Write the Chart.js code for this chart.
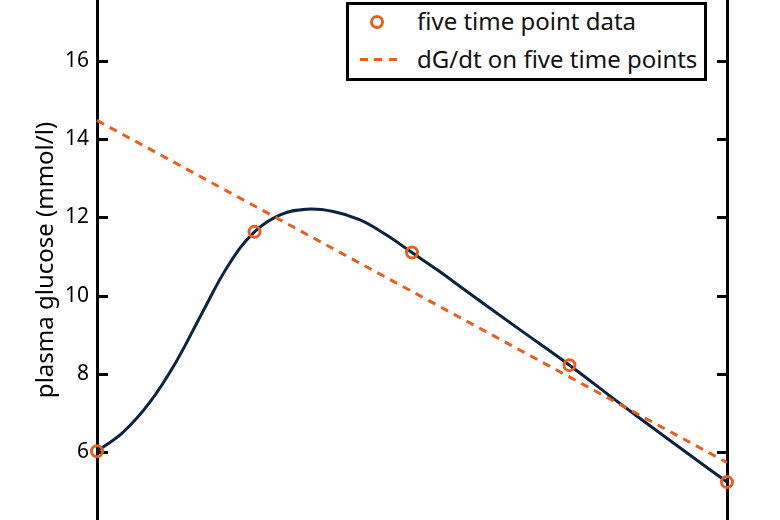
<!DOCTYPE html>
<html><head><meta charset="utf-8">
<script src="https://cdn.jsdelivr.net/npm/chart.js@4"></script>
<style>
html,body{margin:0;padding:0;background:#fff;overflow:hidden}
#wrap{position:relative;width:780px;height:520px}
#legend{position:absolute;left:346px;top:2px;width:355px;height:73px;border:3px solid #000;background:#fff;font-family:'Noto Sans',sans-serif;font-size:24px;color:#111}
.row{position:absolute;left:0;height:30px;width:100%}
.row span{position:absolute;left:68px;top:50%;transform:translateY(-54%);white-space:nowrap}
.mk{position:absolute;left:21px;top:8px;width:8px;height:8px;border:3px solid #e5601f;border-radius:50%}
.dash{position:absolute;left:11px;top:13px;width:37px;height:3px;background:repeating-linear-gradient(to right,#e5601f 0 8px,transparent 8px 14.5px)}
</style>
</head><body>
<div id="wrap">
<canvas id="c" width="780" height="520"></canvas>
<div id="legend">
  <div class="row" style="top:2px"><div class="mk"></div><span>five time point data</span></div>
  <div class="row" style="top:40px"><div class="dash"></div><span>dG/dt on five time points</span></div>
</div>
</div>
<script>
// data
const timePoints  = [0, 30, 60, 90, 120];               // min
const glucose     = [6.02, 11.63, 11.10, 8.22, 5.23];    // mmol/l
const modelTime   = [0, 5, 10, 15, 20, 25, 30, 35, 40, 45, 50, 55, 60, 65, 70, 80, 90, 100, 110, 120];
const modelGlucose= [6.02, 6.51, 7.26, 8.29, 9.55, 10.77, 11.63, 12.07, 12.21, 12.15, 11.94, 11.56, 11.10, 10.64, 10.15, 9.18, 8.22, 7.20, 6.21, 5.23];
const fitTime     = [0, 120];
const fitGlucose  = [14.48, 5.73];
const yTicks      = [6, 8, 10, 12, 14, 16];

const ORANGE = '#e5601f';
const NAVY = '#0b2240';
const FONT = '"Noto Sans", sans-serif';

const toXY = (xs, ys) => xs.map((x, i) => ({x, y: ys[i]}));

const inwardTicks = {
  id: 'inwardTicks',
  beforeDatasetsDraw(chart) {
    const {ctx, chartArea} = chart;
    const y = chart.scales.y;
    ctx.save();
    ctx.strokeStyle = '#000';
    ctx.lineWidth = 3;
    y.ticks.forEach(t => {
      const py = Math.round(y.getPixelForValue(t.value)) + 0.5;
      ctx.beginPath();
      ctx.moveTo(chartArea.left, py); ctx.lineTo(chartArea.left + 11, py);
      ctx.moveTo(chartArea.right, py); ctx.lineTo(chartArea.right - 10, py);
      ctx.stroke();
    });
    ctx.restore();
  }
};

new Chart(document.getElementById('c'), {
  type: 'line',
  data: {
    datasets: [
      {
        label: 'model',
        data: toXY(modelTime, modelGlucose),
        borderColor: NAVY, borderWidth: 3,
        tension: 0.4, pointRadius: 0, fill: false, order: 3
      },
      {
        label: 'dG/dt on five time points',
        data: toXY(fitTime, fitGlucose),
        borderColor: ORANGE, borderWidth: 3, borderDash: [8, 6.5],
        pointRadius: 0, fill: false, order: 2
      },
      {
        label: 'five time point data',
        data: toXY(timePoints, glucose),
        showLine: false,
        pointRadius: 5.5, pointBorderWidth: 3,
        pointBorderColor: ORANGE, pointBackgroundColor: 'rgba(0,0,0,0)',
        order: 1
      }
    ]
  },
  options: {
    responsive: false,
    animation: false,
    clip: false,
    layout: {padding: 0, autoPadding: false},
    plugins: {legend: {display: false}, tooltip: {enabled: false}},
    scales: {
      x: {type: 'linear', min: 0, max: 120, display: false},
      y: {
        position: 'left', min: 4.26, max: 17.56,
        afterFit(s) { s.width = 97; s.paddingTop = 0; s.paddingBottom = 0; },
        afterBuildTicks(s) { s.ticks = yTicks.map(v => ({value: v})); },
        ticks: {padding: 8, color: '#000', font: {family: FONT, size: 21}},
        grid: {display: false, drawTicks: false},
        border: {display: true, color: '#000', width: 3},
        title: {display: true, text: 'plasma glucose (mmol/l)', color: '#000',
                font: {family: FONT, size: 24}, padding: {top: 32, bottom: 0}}
      },
      y2: {
        position: 'right', min: 4.26, max: 17.56,
        afterFit(s) { s.width = 53; s.paddingTop = 0; s.paddingBottom = 0; },
        ticks: {display: false},
        grid: {display: false, drawTicks: false},
        border: {display: true, color: '#000', width: 3}
      }
    }
  },
  plugins: [inwardTicks]
});
</script>
</body></html>
